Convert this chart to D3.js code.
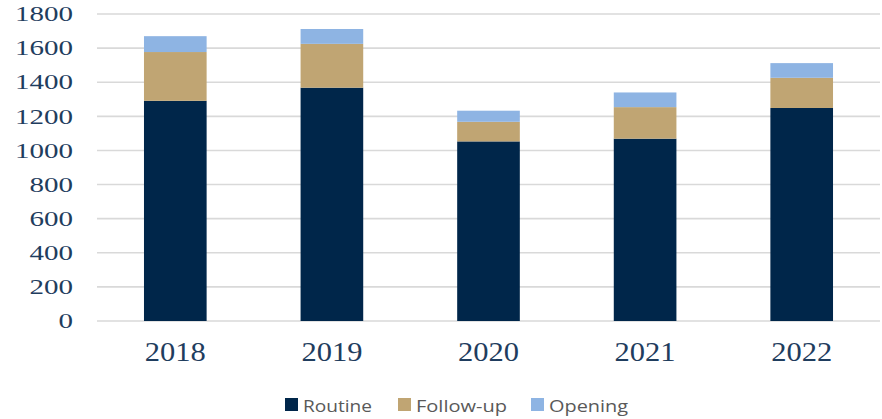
<!DOCTYPE html>
<html><head><meta charset="utf-8">
<script src="https://cdn.jsdelivr.net/npm/d3@7"></script>
<style>body{margin:0;background:#fff}svg{display:block}</style>
</head><body>
<svg id="c" width="882" height="419"></svg>
<script>
const years = ["2018","2019","2020","2021","2022"];
const routine = [1291, 1368, 1053, 1069, 1249];
const followUp = [286, 257, 115, 185, 177];
const opening = [93, 87, 65, 86, 86];
const seriesNames = ["Routine","Follow-up","Opening"];
const seriesColors = ["#00264a","#c0a573","#8eb4e3"];
const yTicks = [0,200,400,600,800,1000,1200,1400,1600,1800];

const svg = d3.select("#c");
const x = d3.scaleBand().domain(years).range([97, 880]).paddingInner(0.6).paddingOuter(0.3);
const y = d3.scaleLinear().domain([0, 1800]).range([321, 14]);

// gridlines
svg.append("g").selectAll("line").data(yTicks).join("line")
  .attr("x1", 97).attr("x2", 880)
  .attr("y1", d => y(d)).attr("y2", d => y(d))
  .attr("stroke", "#d9d9d9").attr("stroke-width", 1.6);

const rows = years.map((yr, i) => ({year: yr, Routine: routine[i], "Follow-up": followUp[i], Opening: opening[i]}));
const stack = d3.stack().keys(seriesNames)(rows);

svg.append("g").selectAll("g").data(stack).join("g")
  .attr("fill", (d, i) => seriesColors[i])
  .selectAll("rect").data(d => d).join("rect")
  .attr("x", d => x(d.data.year))
  .attr("width", x.bandwidth())
  .attr("y", d => y(d[1]))
  .attr("height", d => y(d[0]) - y(d[1]));

// y axis labels
const yAxis = svg.append("g").attr("transform", "translate(73,0)")
  .call(d3.axisLeft(y).tickValues(yTicks).tickSize(0).tickPadding(0).tickFormat(d3.format("d")));
yAxis.select(".domain").remove();
yAxis.selectAll("text")
  .attr("font-family", "'Liberation Serif', serif").attr("font-size", 21)
  .attr("fill", "#1f3d5e")
  .attr("textLength", d => String(d).length * 14.5)
  .attr("lengthAdjust", "spacingAndGlyphs");

// x axis labels
const xAxis = svg.append("g").attr("transform", "translate(0,334)")
  .call(d3.axisBottom(x).tickSize(0).tickPadding(0));
xAxis.select(".domain").remove();
xAxis.selectAll("text")
  .attr("dy", null).attr("y", 27)
  .attr("font-family", "'Liberation Serif', serif").attr("font-size", 27)
  .attr("fill", "#1f3d5e")
  .attr("textLength", 61).attr("lengthAdjust", "spacingAndGlyphs");

// legend
const legendX = [285, 398, 531];
const legendW = [69, 91, 79];
const lg = svg.append("g").selectAll("g").data(seriesNames).join("g")
  .attr("transform", (d, i) => `translate(${legendX[i]},398)`);
lg.append("rect").attr("width", 13).attr("height", 13).attr("fill", (d, i) => seriesColors[i]);
lg.append("text").attr("x", 18).attr("y", 13.5)
  .attr("font-family", "'Open Sans', sans-serif").attr("font-size", 17)
  .attr("fill", "#595959")
  .attr("textLength", (d, i) => legendW[i]).attr("lengthAdjust", "spacingAndGlyphs")
  .text(d => d);
</script>
</body></html>
